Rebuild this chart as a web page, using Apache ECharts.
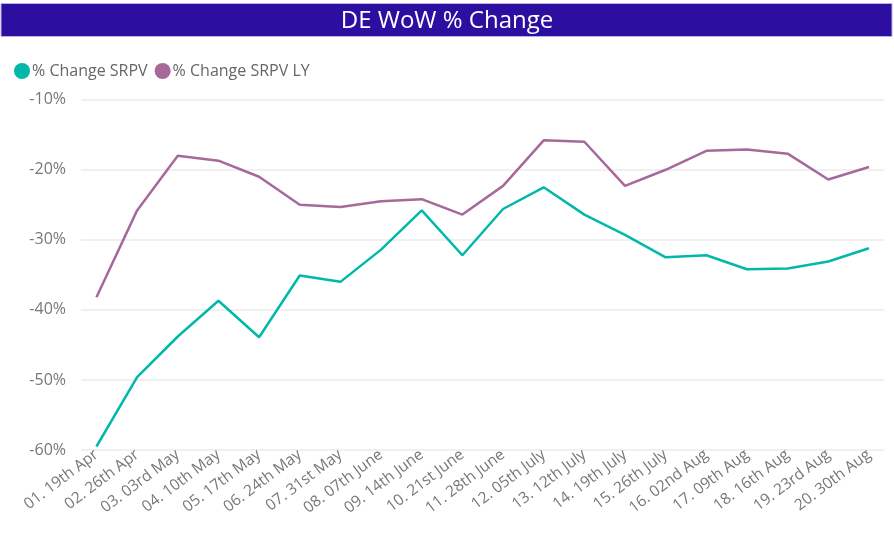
<!DOCTYPE html>
<html><head><meta charset="utf-8">
<script src="https://cdn.jsdelivr.net/npm/echarts@6/dist/echarts.min.js"></script>
<style>html,body{margin:0;padding:0;background:#fff}#c{width:894px;height:544px}</style>
</head><body><div id="c"></div>
<script>
const categories = ["01. 19th Apr","02. 26th Apr","03. 03rd May","04. 10th May","05. 17th May","06. 24th May","07. 31st May","08. 07th June","09. 14th June","10. 21st June","11. 28th June","12. 05th July","13. 12th July","14. 19th July","15. 26th July","16. 02nd Aug","17. 09th Aug","18. 16th Aug","19. 23rd Aug","20. 30th Aug"];
const srpv = [-59.5,-49.6,-43.8,-38.7,-43.9,-35.1,-36.0,-31.4,-25.8,-32.2,-25.6,-22.5,-26.4,-29.3,-32.5,-32.2,-34.2,-34.1,-33.1,-31.2];
const srpvLY = [-38.2,-25.8,-18.0,-18.7,-21.0,-25.0,-25.3,-24.5,-24.2,-26.4,-22.3,-15.8,-16.0,-22.3,-20.0,-17.3,-17.1,-17.7,-21.4,-19.6];
const seriesNames = ["% Change SRPV","% Change SRPV LY"];
const titleText = "DE WoW % Change";

const idx = categories.map((c, i) => i);
const chart = echarts.init(document.getElementById('c'));
const font = "'Open Sans', 'Noto Sans', sans-serif";
chart.setOption({
  animation: false,
  graphic: [{type:'rect', shape:{x:1,y:3.5,width:891,height:33}, style:{fill:'#2C0FA0', stroke:'#b9b0e0', lineWidth:1}}],
  title: {text: titleText, left: 'center', top: 4, textStyle:{color:'#fff', fontSize:24, fontWeight:'normal', fontFamily:font}},
  legend: {left: 9, top: 58, icon:'circle', itemWidth:16, itemHeight:16, itemGap:7,
    textStyle:{color:'#666', fontSize:16, fontFamily:font, padding:[0,0,0,-3]}},
  color: ['#01B8AA','#A66999'],
  grid: {left: 81, right: 10, top: 99.7, bottom: 94},
  xAxis: {type:'value', min:-0.38, max:19.37,
    axisLine:{show:false}, axisTick:{show:false}, splitLine:{show:false},
    axisLabel:{customValues: idx, formatter: v => categories[Math.round(v)] || '', rotate:37, color:'#777', fontSize:15.5, fontFamily:font, margin:3}},
  yAxis: {type:'value', min:-60, max:-10, interval:10,
    axisLine:{show:false}, axisTick:{show:false},
    axisLabel:{formatter:'{value}%', color:'#777', fontSize:16, fontFamily:font, margin:15},
    splitLine:{lineStyle:{color:'#ebebeb', width:1.5}}},
  series: [
    {name: seriesNames[0], type:'line', data: srpv.map((v, i) => [idx[i], v]), symbol:'none', lineStyle:{width:2.5}},
    {name: seriesNames[1], type:'line', data: srpvLY.map((v, i) => [idx[i], v]), symbol:'none', lineStyle:{width:2.5}}
  ]
});
</script></body></html>
